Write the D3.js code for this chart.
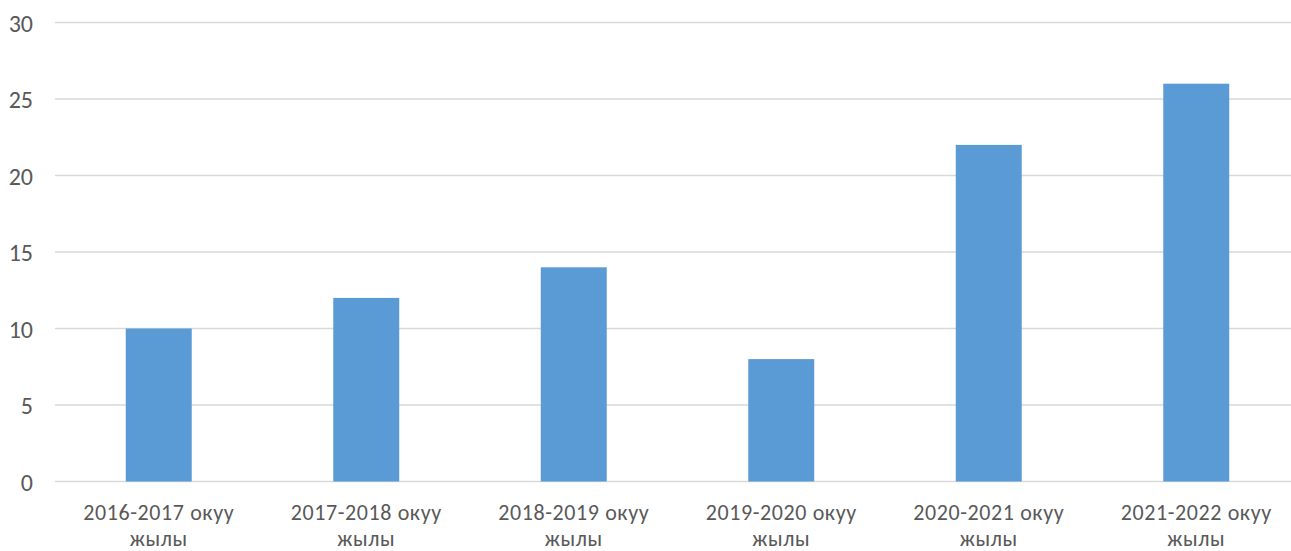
<!DOCTYPE html>
<html>
<head>
<meta charset="utf-8">
<script src="https://cdn.jsdelivr.net/npm/d3@7"></script>
<style>
  body { margin: 0; background: #ffffff; }
  svg text { font-family: Carlito, Lato, "Open Sans", sans-serif; fill: #595959; }
</style>
</head>
<body>
<div id="chart"></div>
<script>
var categories = ["2016-2017 окуу жылы", "2017-2018 окуу жылы", "2018-2019 окуу жылы",
                  "2019-2020 окуу жылы", "2020-2021 окуу жылы", "2021-2022 окуу жылы"];
var values = [10, 12, 14, 8, 22, 26];
var yTicks = [0, 5, 10, 15, 20, 25, 30];

var width = 1291, height = 551;
var margin = {top: 22.5, right: -9, bottom: 69.5, left: 55};
var fontSize = 24;
var labelSize = 22;
var barColor = "#5b9bd5";
var gridColor = "#d9d9d9";

var svg = d3.select("#chart")
            .append("svg")
            .attr("width", width)
            .attr("height", height);

var x = d3.scaleBand()
          .domain(categories)
          .range([margin.left, width - margin.right])
          .paddingInner(0.682)
          .paddingOuter(0.341);

var y = d3.scaleLinear()
          .domain([0, 30])
          .range([height - margin.bottom, margin.top]);

// gridlines
svg.append("g")
   .selectAll("line")
   .data(yTicks)
   .enter()
   .append("line")
   .attr("x1", margin.left)
   .attr("x2", width - margin.right)
   .attr("y1", function(d){ return y(d); })
   .attr("y2", function(d){ return y(d); })
   .attr("stroke", gridColor)
   .attr("stroke-width", 1.3);

// y labels
var yAxis = d3.axisLeft(y).tickValues(yTicks).tickSize(0).tickPadding(0);
var yg = svg.append("g")
            .attr("transform", "translate(" + 33 + ",0)")
            .call(yAxis);
yg.select(".domain").remove();
yg.attr("font-family", null).attr("font-size", null);
yg.selectAll("text")
  .attr("font-size", fontSize)
  .attr("dy", "0.36em");

// bars
svg.append("g")
   .selectAll("rect")
   .data(values)
   .enter()
   .append("rect")
   .attr("x", function(d, i){ return x(categories[i]); })
   .attr("y", function(d){ return y(d); })
   .attr("width", x.bandwidth())
   .attr("height", function(d){ return y(0) - y(d); })
   .attr("fill", barColor);

// category labels (two lines)
var labels = svg.append("g")
                .selectAll("text")
                .data(categories)
                .enter()
                .append("text")
                .attr("text-anchor", "middle")
                .attr("font-size", labelSize)
                .attr("letter-spacing", 0.6)
                .attr("x", function(d){ return x(d) + x.bandwidth() / 2; });

labels.append("tspan")
      .attr("x", function(d){ return x(d) + x.bandwidth() / 2; })
      .attr("y", 519.5)
      .text(function(d){ return d.replace(/ жылы$/, ""); });
labels.append("tspan")
      .attr("x", function(d){ return x(d) + x.bandwidth() / 2; })
      .attr("y", 546)
      .text("жылы");
</script>
</body>
</html>
